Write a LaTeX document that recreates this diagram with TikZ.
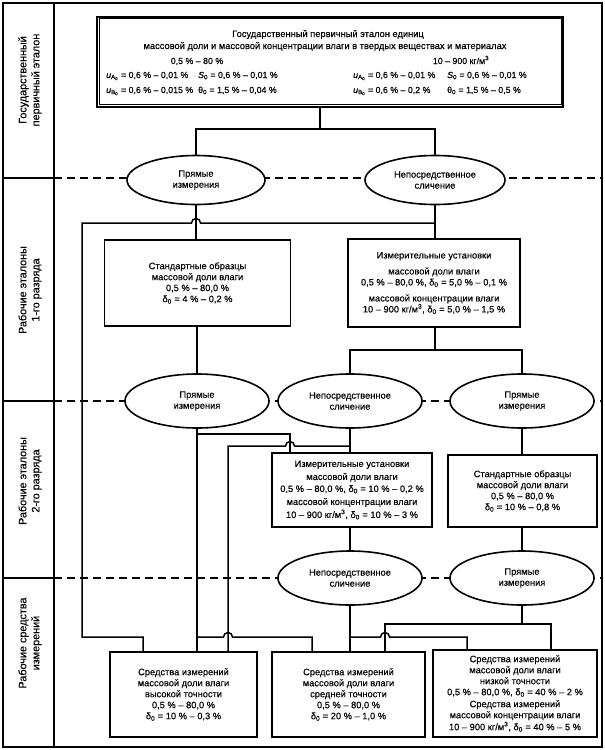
\documentclass[tikz,border=0pt]{standalone}
\usepackage{fontspec}
\setmainfont{Liberation Sans}[FakeBold=0.3]
\usetikzlibrary{shapes.geometric,calc}
\newcommand\myuA{{\itshape u}\textsubscript{A\textsubscript{0}}}
\newcommand\myuB{{\itshape u}\textsubscript{B\textsubscript{0}}}
\newcommand\mySz{{\itshape S}\textsubscript{0}}
\newcommand\mytz{θ\textsubscript{0}}
\newcommand\mydz{δ\textsubscript{0}}
\begin{document}
\begin{tikzpicture}[x=1pt,y=-1pt,
  every node/.style={font=\fontsize{9.3}{11}\selectfont},
  conn/.style={line width=1.5pt},
  box/.style={draw, line width=1.6pt, align=center, inner sep=1pt, fill=white},
  oval/.style={ellipse, draw, line width=1.6pt, fill=white, align=center, inner sep=0pt},
  divider/.style={line width=1.6pt, dash pattern=on 8pt off 5pt},
  lbl/.style={rotate=90, align=center, inner sep=0pt, font=\fontsize{10.8}{13}\selectfont},
  txt/.style={inner sep=0pt},
  num/.style={inner sep=0pt, font=\fontsize{8.8}{11}\selectfont}
]
\useasboundingbox (0,0) rectangle (605,750);
% frame and bands
\draw[line width=2.2pt] (3,3) rectangle (602,747);
\draw[line width=1.4pt] (54,3) -- (54,747);
\draw[line width=1.4pt] (3,178) -- (54,178);
\draw[line width=1.4pt] (3,401) -- (54,401);
\draw[line width=1.4pt] (3,578) -- (54,578);
\draw[divider] (54,178) -- (602,178);
\draw[divider] (54,401) -- (602,401);
\draw[divider] (54,578) -- (602,578);
% band labels
\node[lbl] (lab1) at (30,80) {Государственный\\первичный эталон};
\node[lbl] (lab2) at (30,290) {Рабочие эталоны\\1-го разряда};
\node[lbl] (lab3) at (30,481) {Рабочие эталоны\\2-го разряда};
\node[lbl] (lab4) at (30,643) {Рабочие средства\\измерений};
% top box
\node[draw, line width=2pt, minimum width=466, minimum height=90, inner sep=0pt] (top) at (330,61.5) {};
\draw[line width=0.8pt] ([shift={(3pt,-3pt)}]top.north west) rectangle ([shift={(-3pt,3pt)}]top.south east);
\node[txt, anchor=base] (t1) at (328,37) {Государственный первичный эталон единиц};
\node[txt, anchor=base] (t2) at (325,49) {массовой доли и массовой концентрации влаги в твердых веществах и материалах};
\node[num, anchor=base] (t3) at (197,64) {0,5 \% – 80 \%};
\node[num, anchor=base west] (t4) at (106,78) {\myuA\ = 0,6 \% – 0,01 \%};
\node[num, anchor=base west] (t5) at (198,78) {\mySz\ = 0,6 \% – 0,01 \%};
\node[num, anchor=base west] (t6) at (106,93) {\myuB\ = 0,6 \% – 0,015 \%};
\node[num, anchor=base west] (t7) at (198,93) {\mytz\ = 1,5 \% – 0,04 \%};
\node[num, anchor=base] (t8) at (461,64) {10 – 900 кг/м\textsuperscript{3}};
\node[num, anchor=base west] (t9) at (353,78) {\myuA\ = 0,6 \% – 0,01 \%};
\node[num, anchor=base west] (t10) at (447,78) {\mySz\ = 0,6 \% – 0,01 \%};
\node[num, anchor=base west] (t11) at (353,93) {\myuB\ = 0,6 \% – 0,2 \%};
\node[num, anchor=base west] (t12) at (447,93) {\mytz\ = 1,5 \% – 0,5 \%};
% ellipses
\node[oval, minimum width=138, minimum height=49] (e1a) at (196,180) {Прямые\\измерения};
\node[oval, minimum width=140, minimum height=49] (e1b) at (435,180) {Непосредственное\\сличение};
\node[oval, minimum width=144, minimum height=54] (e2a) at (197,401) {Прямые\\измерения};
\node[oval, minimum width=144, minimum height=54] (e2b) at (350,401) {Непосредственное\\сличение};
\node[oval, minimum width=144, minimum height=54] (e2c) at (522,401) {Прямые\\измерения};
\node[oval, minimum width=144, minimum height=54] (e3b) at (350,578) {Непосредственное\\сличение};
\node[oval, minimum width=144, minimum height=54] (e3c) at (522,578) {Прямые\\измерения};
% boxes
\node[box, minimum width=186, minimum height=86] (so1) at (197.5,283) {Стандартные образцы\\массовой доли влаги\\0,5 \% – 80,0 \%\\\mydz\ = 4 \% – 0,2 \%};
\node[box, minimum width=172, minimum height=88] (iu1) at (434,283) {Измерительные установки\\[5pt]массовой доли влаги\\0,5 \% – 80,0 \%, \mydz\ = 5,0 \% – 0,1 \%\\[5pt]массовой концентрации влаги\\10 – 900 кг/м\textsuperscript{3}, \mydz\ = 5,0 \% – 1,5 \%};
\node[box, minimum width=160, minimum height=74] (iu2) at (352,490) {Измерительные установки\\[2pt]массовой доли влаги\\[1pt]0,5 \% – 80,0 \%, \mydz\ = 10 \% – 0,2 \%\\[2pt]массовой концентрации влаги\\[2pt]10 – 900 кг/м\textsuperscript{3}, \mydz\ = 10 \% – 3 \%};
\node[box, minimum width=149, minimum height=72] (so2) at (522.5,491) {Стандартные образцы\\массовой доли влаги\\0,5 \% – 80,0 \%\\\mydz\ = 10 \% – 0,8 \%};
\node[box, minimum width=147, minimum height=85] (b1) at (183.5,694.5) {Средства измерений\\массовой доли влаги\\высокой точности\\0,5 \% – 80,0 \%\\\mydz\ = 10 \% – 0,3 \%};
\node[box, minimum width=153, minimum height=85] (b2) at (348.5,694.5) {Средства измерений\\массовой доли влаги\\средней точности\\0,5 \% – 80,0 \%\\\mydz\ = 20 \% – 1,0 \%};
\node[box, minimum width=164, minimum height=87] (b3) at (515,693.5) {Средства измерений\\массовой доли влаги\\низкой точности\\0,5 \% – 80,0 \%, \mydz\ = 40 \% – 2 \%\\[1pt]Средства измерений\\массовой концентрации влаги\\[1pt]10 – 900 кг/м\textsuperscript{3}, \mydz\ = 40 \% – 5 \%};
% connectors: primary standard
\coordinate (j0) at (320,129);
\draw[conn] (top.south -| j0) -- (j0);
\draw[conn] (e1a.north) |- (j0) -| (e1b.north);
\draw[conn] (e1a.south) -- (e1a.south |- so1.north);
\draw[conn] (e1b.south) -- (e1b.south |- iu1.north);
\coordinate (k1) at (82,223);
\coordinate (k2) at (82,637);
\coordinate (k3) at (143,637);
\draw[conn] (e1b.south |- k1) -- ([xshift=4.5pt]e1a.south |- k1) arc[start angle=0,end angle=180,radius=4.5pt] -- (k1) -- (k2) -- (k3) -- (k3 |- b1.north);
% tier 1 to tier 2
\draw[conn] (so1.south -| e2a) -- (e2a.north);
\coordinate (j1) at (435,350);
\draw[conn] (iu1.south -| j1) -- (j1);
\draw[conn] (e2b.north) |- (j1) -| (e2c.north);
\draw[conn] (e2c.south) -- (e2c.south |- so2.north);
% tier 2 outputs
\draw[conn] (e2a.south) -- (e2a.south |- b1.north);
\coordinate (m1) at (290,434);
\draw[conn] (e2a.south |- m1) -- (m1) -- (m1 |- iu2.north);
\draw[conn] (e2b.south) -- (e2b.south |- iu2.north);
\coordinate (m2) at (228,446);
\draw[conn] (e2b.south |- m2) -- ([xshift=4.5pt]m1 |- m2) arc[start angle=0,end angle=180,radius=4.5pt] -- (m2) -- (m2 |- b1.north);
\coordinate (m3) at (312,637);
\draw[conn] (e2a.south |- m3) -- ([xshift=-4.5pt]m2 |- m3) arc[start angle=180,end angle=0,radius=4.5pt] -- (m3) -- (m3 |- b2.north);
% tier 2 to tier 3
\draw[conn] (iu2.south -| e3b) -- (e3b.north);
\draw[conn] (so2.south -| e3c) -- (e3c.north);
% tier 3 outputs
\draw[conn] (e3b.south) -- (e3b.south |- b2.north);
\coordinate (n1) at (385,624);
\coordinate (n2) at (551,624);
\draw[conn] (e3c.south) -- (e3c.south |- n1);
\draw[conn] (n1 |- b2.north) -- (n1) -- (n2) -- (n2 |- b3.north);
\coordinate (n3) at (467,637);
\draw[conn] (e3b.south |- n3) -- ([xshift=-4.5pt]n1 |- n3) arc[start angle=180,end angle=0,radius=4.5pt] -- (n3) -- (n3 |- b3.north);
\end{tikzpicture}
\end{document}
